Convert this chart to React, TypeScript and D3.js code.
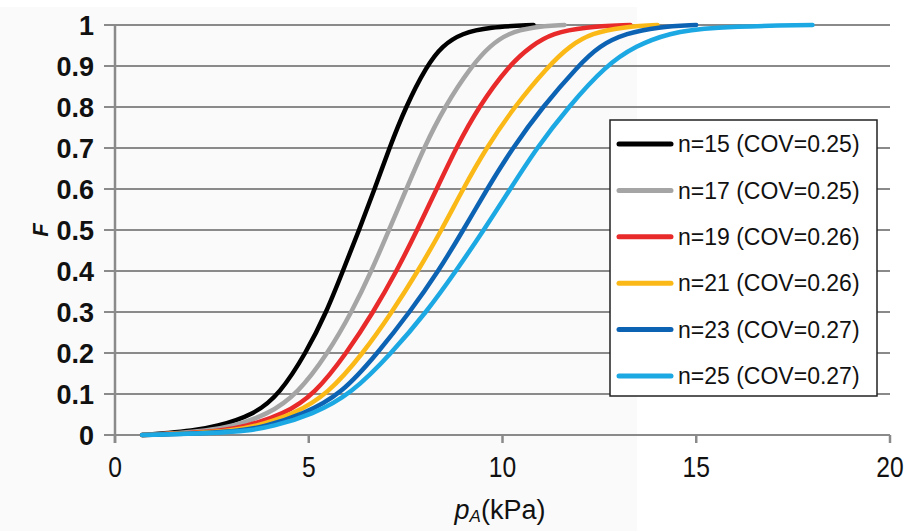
import React from "react";
import * as d3 from "d3";

const F_LEVELS = [0, 0.005, 0.01, 0.02, 0.05, 0.1, 0.2, 0.3, 0.4, 0.5, 0.6, 0.7, 0.8, 0.9, 0.95, 0.98, 0.995, 1];

const X_N15 = [0.7, 1.4, 1.95, 2.6, 3.6, 4.25, 4.93, 5.46, 5.88, 6.3, 6.7, 7.08, 7.5, 8.04, 8.45, 8.95, 9.65, 10.8];
const X_N17 = [0.7, 1.7, 2.3, 3.0, 3.95, 4.71, 5.5, 6.11, 6.62, 7.07, 7.52, 7.97, 8.5, 9.2, 9.68, 10.15, 10.75, 11.6];
const X_N19 = [0.7, 2.0, 2.7, 3.35, 4.35, 5.16, 5.98, 6.67, 7.27, 7.8, 8.3, 8.8, 9.38, 10.15, 10.75, 11.3, 12.1, 13.3];
const X_N21 = [0.7, 2.2, 2.95, 3.6, 4.6, 5.5, 6.41, 7.15, 7.82, 8.43, 8.98, 9.58, 10.3, 11.18, 11.75, 12.3, 13.1, 14.0];
const X_N23 = [0.7, 2.45, 3.2, 3.85, 4.85, 5.85, 6.78, 7.61, 8.35, 8.99, 9.6, 10.26, 11.03, 11.95, 12.5, 13.2, 14.0, 15.0];
const X_N25 = [0.7, 2.7, 3.4, 4.05, 5.1, 6.1, 7.14, 8.04, 8.8, 9.52, 10.2, 10.88, 11.7, 12.65, 13.45, 14.3, 15.3, 18.0];

const SERIES_LABELS = ["n=15 (COV=0.25)", "n=17 (COV=0.25)", "n=19 (COV=0.26)", "n=21 (COV=0.26)", "n=23 (COV=0.27)", "n=25 (COV=0.27)"];
const SERIES_X = [X_N15, X_N17, X_N19, X_N21, X_N23, X_N25];
const SERIES_COLORS = ["#000000", "#a5a5a5", "#e82a2a", "#fbb917", "#0d63b3", "#1ca8e3"];

const X_TICKS = [0, 5, 10, 15, 20];
const Y_TICKS = [0, 0.1, 0.2, 0.3, 0.4, 0.5, 0.6, 0.7, 0.8, 0.9, 1];

const W = 909;
const H = 531;

export default function App() {
  const x = d3.scaleLinear().domain([0, 20]).range([115, 890]);
  const y = d3.scaleLinear().domain([0, 1]).range([435, 25]);
  const line = d3
    .line<[number, number]>()
    .x((d) => x(d[0]))
    .y((d) => y(d[1]))
    .curve(d3.curveBasis);

  const gridColor = "#8a8a8a";
  const font = "'Liberation Sans', Arial, sans-serif";

  const legendX = 610;
  const legendY = 120;
  const legendW = 267;
  const legendH = 276;
  const rowY = (i: number) => 144 + i * 46.4;

  return (
    <svg width={W} height={H} style={{ position: "absolute", left: 0, top: 0, background: "#ffffff" }}>
      <rect x={0} y={7} width={637} height={H - 7} fill="#fafafa" />
      {Y_TICKS.map((t) => (
        <line key={"g" + t} x1={104} x2={890} y1={y(t)} y2={y(t)} stroke={gridColor} strokeWidth={2} />
      ))}
      <line x1={x(0)} x2={x(0)} y1={y(1)} y2={y(0) + 8} stroke={gridColor} strokeWidth={2.5} />
      {X_TICKS.map((t) => (
        <line key={"xt" + t} x1={x(t)} x2={x(t)} y1={y(0)} y2={y(0) + 8} stroke={gridColor} strokeWidth={2.5} />
      ))}
      {Y_TICKS.map((t) => (
        <text
          key={"yl" + t}
          x={94}
          y={y(t)}
          dy="0.36em"
          textAnchor="end"
          fontFamily={font}
          fontWeight="bold"
          fontSize={27}
          fill="#111"
        >
          {String(t)}
        </text>
      ))}
      {X_TICKS.map((t) => (
        <text
          key={"xl" + t}
          x={x(t)}
          y={477}
          textAnchor="middle"
          fontFamily={font}
          fontSize={29}
          fill="#111"
          transform={`translate(${x(t)},0) scale(0.85,1) translate(${-x(t)},0)`}
        >
          {String(t)}
        </text>
      ))}
      {SERIES_X.map((xs, i) => {
        const pts: [number, number][] = xs.map((v, k) => [v, F_LEVELS[k]]);
        return (
          <path
            key={"s" + i}
            d={line(pts) || ""}
            fill="none"
            stroke={SERIES_COLORS[i]}
            strokeWidth={4.5}
            strokeLinejoin="round"
            strokeLinecap="round"
          />
        );
      })}
      <rect x={legendX} y={legendY} width={legendW} height={legendH} fill="#ffffff" stroke="#222" strokeWidth={1.5} />
      {SERIES_LABELS.map((lab, i) => (
        <g key={"lg" + i}>
          <line x1={619} x2={671} y1={rowY(i)} y2={rowY(i)} stroke={SERIES_COLORS[i]} strokeWidth={5} strokeLinecap="round" />
          <text x={678} y={rowY(i)} dy="0.36em" fontFamily={font} fontSize={23} fill="#111">
            {lab}
          </text>
        </g>
      ))}
      <text
        transform={`translate(40,${y(0.5)}) rotate(-90)`}
        textAnchor="middle"
        dy="0.36em"
        fontFamily={font}
        fontWeight="bold"
        fontStyle="italic"
        fontSize={22}
        fill="#111"
      >
        F
      </text>
      <text x={500} y={519} textAnchor="middle" fontFamily={font} fontSize={27} fill="#111">
        <tspan fontStyle="italic">p</tspan>
        <tspan fontStyle="italic" fontSize={17} dy={3}>A</tspan>
        <tspan dy={-3}>(kPa)</tspan>
      </text>
    </svg>
  );
}
